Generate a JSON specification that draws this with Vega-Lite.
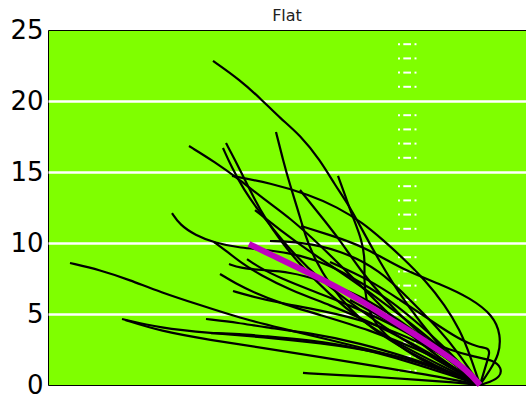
{
  "$schema": "https://vega.github.io/schema/vega-lite/v6.json",
  "width": 478,
  "height": 355,
  "autosize": {"type": "none"},
  "padding": {"left": 48, "top": 30, "right": 0, "bottom": 21},
  "background": "white",
  "title": {"text": "Flat", "fontSize": 16, "font": "DejaVu Sans", "fontWeight": "normal", "color": "#222", "offset": -7},
  "config": {"view": {"fill": "#7FFF00", "stroke": "#000", "strokeWidth": 1}},
  "datasets": {
    "hashes": [{"y":1},{"y":2},{"y":3},{"y":4},{"y":6},{"y":7},{"y":8},{"y":9},{"y":11},{"y":12},{"y":13},{"y":14},{"y":16},{"y":17},{"y":18},{"y":19},{"y":21},{"y":22},{"y":23},{"y":24}],
    "mean": [
      {"i":0,"x":-23.1,"y":9.93},{"i":1,"x":-21.7,"y":9.44},{"i":2,"x":-15.0,"y":7.18},{"i":3,"x":-12.0,"y":5.99},{"i":4,"x":-8.4,"y":4.37},{"i":5,"x":-7.0,"y":3.80},{"i":6,"x":-3.7,"y":2.25},{"i":7,"x":-1.3,"y":1.06},{"i":8,"x":0,"y":0}
    ],
    "paths": [
      {"c":"A","i":0,"x":-26.7,"y":22.82},{"c":"A","i":1,"x":-24.0,"y":21.48},{"c":"A","i":2,"x":-21.8,"y":20.07},{"c":"A","i":3,"x":-20.0,"y":18.80},{"c":"A","i":4,"x":-18.0,"y":17.61},{"c":"A","i":5,"x":-16.0,"y":15.85},{"c":"A","i":6,"x":-14.5,"y":14.08},{"c":"A","i":7,"x":-13.0,"y":12.54},{"c":"A","i":8,"x":-11.5,"y":10.56},{"c":"A","i":9,"x":-10.0,"y":8.66},{"c":"A","i":10,"x":-8.0,"y":6.34},{"c":"A","i":11,"x":-6.0,"y":4.44},{"c":"A","i":12,"x":-3.5,"y":2.32},{"c":"A","i":13,"x":-1.5,"y":0.92},{"c":"A","i":14,"x":0,"y":0},
      {"c":"B","i":0,"x":-29.1,"y":16.83},{"c":"B","i":1,"x":-26.5,"y":15.70},{"c":"B","i":2,"x":-24.0,"y":14.44},{"c":"B","i":3,"x":-21.5,"y":13.03},{"c":"B","i":4,"x":-19.0,"y":11.76},{"c":"B","i":5,"x":-16.0,"y":9.86},{"c":"B","i":6,"x":-13.0,"y":7.75},{"c":"B","i":7,"x":-10.0,"y":5.63},{"c":"B","i":8,"x":-7.0,"y":3.52},{"c":"B","i":9,"x":-4.0,"y":1.90},{"c":"B","i":10,"x":-1.5,"y":0.70},{"c":"B","i":11,"x":0,"y":0},
      {"c":"C","i":0,"x":-25.4,"y":17.04},{"c":"C","i":1,"x":-24.5,"y":15.85},{"c":"C","i":2,"x":-23.5,"y":14.44},{"c":"C","i":3,"x":-22.5,"y":13.03},{"c":"C","i":4,"x":-21.5,"y":11.76},{"c":"C","i":5,"x":-20.0,"y":10.21},{"c":"C","i":6,"x":-18.0,"y":8.45},{"c":"C","i":7,"x":-15.0,"y":6.34},{"c":"C","i":8,"x":-12.0,"y":4.58},{"c":"C","i":9,"x":-8.0,"y":2.82},{"c":"C","i":10,"x":-4.0,"y":1.41},{"c":"C","i":11,"x":0,"y":0},
      {"c":"D","i":0,"x":-25.7,"y":16.69},{"c":"D","i":1,"x":-24.8,"y":15.28},{"c":"D","i":2,"x":-23.6,"y":13.73},{"c":"D","i":3,"x":-22.2,"y":12.32},{"c":"D","i":4,"x":-21.0,"y":11.27},{"c":"D","i":5,"x":-19.0,"y":9.51},{"c":"D","i":6,"x":-16.0,"y":7.39},{"c":"D","i":7,"x":-12.0,"y":5.28},{"c":"D","i":8,"x":-8.0,"y":3.31},{"c":"D","i":9,"x":-4.0,"y":1.62},{"c":"D","i":10,"x":0,"y":0},
      {"c":"E","i":0,"x":-24.8,"y":14.72},{"c":"E","i":1,"x":-21.0,"y":14.23},{"c":"E","i":2,"x":-17.0,"y":13.38},{"c":"E","i":3,"x":-14.3,"y":12.54},{"c":"E","i":4,"x":-11.7,"y":11.41},{"c":"E","i":5,"x":-9.7,"y":10.21},{"c":"E","i":6,"x":-7.7,"y":8.94},{"c":"E","i":7,"x":-5.5,"y":7.39},{"c":"E","i":8,"x":-3.5,"y":5.63},{"c":"E","i":9,"x":-2.0,"y":3.87},{"c":"E","i":10,"x":-1.0,"y":2.11},{"c":"E","i":11,"x":0,"y":0},
      {"c":"F","i":0,"x":-17.9,"y":11.20},{"c":"F","i":1,"x":-15.0,"y":10.56},{"c":"F","i":2,"x":-11.7,"y":9.79},{"c":"F","i":3,"x":-7.7,"y":8.10},{"c":"F","i":4,"x":-3.7,"y":7.04},{"c":"F","i":5,"x":-1.0,"y":6.13},{"c":"F","i":6,"x":1.3,"y":4.93},{"c":"F","i":7,"x":2.1,"y":3.52},{"c":"F","i":8,"x":1.9,"y":2.11},{"c":"F","i":9,"x":1.0,"y":1.06},{"c":"F","i":10,"x":0,"y":0},
      {"c":"G","i":0,"x":-20.4,"y":17.82},{"c":"G","i":1,"x":-19.7,"y":15.85},{"c":"G","i":2,"x":-19.0,"y":14.08},{"c":"G","i":3,"x":-18.2,"y":12.32},{"c":"G","i":4,"x":-17.5,"y":10.56},{"c":"G","i":5,"x":-16.5,"y":8.80},{"c":"G","i":6,"x":-15.0,"y":7.04},{"c":"G","i":7,"x":-13.0,"y":5.28},{"c":"G","i":8,"x":-10.0,"y":3.52},{"c":"G","i":9,"x":-6.0,"y":1.90},{"c":"G","i":10,"x":-2.5,"y":0.70},{"c":"G","i":11,"x":0,"y":0},
      {"c":"H","i":0,"x":-14.2,"y":14.72},{"c":"H","i":1,"x":-13.5,"y":13.38},{"c":"H","i":2,"x":-12.8,"y":11.97},{"c":"H","i":3,"x":-11.8,"y":10.21},{"c":"H","i":4,"x":-11.5,"y":8.80},{"c":"H","i":5,"x":-11.6,"y":7.39},{"c":"H","i":6,"x":-11.4,"y":5.99},{"c":"H","i":7,"x":-10.8,"y":4.58},{"c":"H","i":8,"x":-9.0,"y":3.17},{"c":"H","i":9,"x":-6.0,"y":1.76},{"c":"H","i":10,"x":-2.5,"y":0.70},{"c":"H","i":11,"x":0,"y":0},
      {"c":"I","i":0,"x":-30.8,"y":12.11},{"c":"I","i":1,"x":-30.0,"y":11.27},{"c":"I","i":2,"x":-28.5,"y":10.56},{"c":"I","i":3,"x":-26.5,"y":10.00},{"c":"I","i":4,"x":-24.0,"y":9.65},{"c":"I","i":5,"x":-21.0,"y":9.51},{"c":"I","i":6,"x":-18.0,"y":9.15},{"c":"I","i":7,"x":-15.0,"y":8.45},{"c":"I","i":8,"x":-12.0,"y":7.25},{"c":"I","i":9,"x":-9.0,"y":5.99},{"c":"I","i":10,"x":-6.0,"y":4.23},{"c":"I","i":11,"x":-3.0,"y":2.32},{"c":"I","i":12,"x":0,"y":0},
      {"c":"J","i":0,"x":-41.0,"y":8.59},{"c":"J","i":1,"x":-38.0,"y":8.10},{"c":"J","i":2,"x":-35.0,"y":7.39},{"c":"J","i":3,"x":-32.0,"y":6.55},{"c":"J","i":4,"x":-28.0,"y":5.63},{"c":"J","i":5,"x":-24.0,"y":4.72},{"c":"J","i":6,"x":-20.0,"y":4.01},{"c":"J","i":7,"x":-15.0,"y":3.17},{"c":"J","i":8,"x":-10.0,"y":2.32},{"c":"J","i":9,"x":-5.0,"y":1.41},{"c":"J","i":10,"x":0,"y":0},
      {"c":"K","i":0,"x":-35.8,"y":4.65},{"c":"K","i":1,"x":-32.0,"y":4.01},{"c":"K","i":2,"x":-27.0,"y":3.66},{"c":"K","i":3,"x":-21.7,"y":3.38},{"c":"K","i":4,"x":-16.0,"y":2.96},{"c":"K","i":5,"x":-10.0,"y":2.32},{"c":"K","i":6,"x":-5.0,"y":1.41},{"c":"K","i":7,"x":0,"y":0},
      {"c":"L","i":0,"x":-35.5,"y":4.58},{"c":"L","i":1,"x":-32.0,"y":3.80},{"c":"L","i":2,"x":-27.0,"y":3.17},{"c":"L","i":3,"x":-21.7,"y":2.61},{"c":"L","i":4,"x":-16.0,"y":1.97},{"c":"L","i":5,"x":-10.0,"y":1.27},{"c":"L","i":6,"x":-5.0,"y":0.70},{"c":"L","i":7,"x":0,"y":0},
      {"c":"M","i":0,"x":-27.4,"y":4.65},{"c":"M","i":1,"x":-24.0,"y":4.37},{"c":"M","i":2,"x":-21.7,"y":4.08},{"c":"M","i":3,"x":-17.0,"y":3.66},{"c":"M","i":4,"x":-12.0,"y":2.96},{"c":"M","i":5,"x":-7.0,"y":1.90},{"c":"M","i":6,"x":-3.0,"y":0.92},{"c":"M","i":7,"x":0,"y":0},
      {"c":"N","i":0,"x":-26.9,"y":3.66},{"c":"N","i":1,"x":-24.0,"y":3.59},{"c":"N","i":2,"x":-21.7,"y":3.45},{"c":"N","i":3,"x":-17.0,"y":3.17},{"c":"N","i":4,"x":-12.0,"y":2.61},{"c":"N","i":5,"x":-7.0,"y":1.62},{"c":"N","i":6,"x":-3.0,"y":0.70},{"c":"N","i":7,"x":0,"y":0},
      {"c":"O","i":0,"x":-26.6,"y":10.07},{"c":"O","i":1,"x":-25.5,"y":9.51},{"c":"O","i":2,"x":-24.0,"y":8.66},{"c":"O","i":3,"x":-22.0,"y":7.75},{"c":"O","i":4,"x":-19.0,"y":6.69},{"c":"O","i":5,"x":-15.0,"y":5.63},{"c":"O","i":6,"x":-11.0,"y":4.44},{"c":"O","i":7,"x":-7.0,"y":3.03},{"c":"O","i":8,"x":-3.0,"y":1.41},{"c":"O","i":9,"x":0,"y":0},
      {"c":"P","i":0,"x":-25.1,"y":8.52},{"c":"P","i":1,"x":-24.0,"y":8.24},{"c":"P","i":2,"x":-22.0,"y":8.10},{"c":"P","i":3,"x":-19.0,"y":7.96},{"c":"P","i":4,"x":-16.0,"y":7.39},{"c":"P","i":5,"x":-12.0,"y":6.34},{"c":"P","i":6,"x":-8.0,"y":4.58},{"c":"P","i":7,"x":-4.0,"y":2.46},{"c":"P","i":8,"x":0,"y":0},
      {"c":"Q","i":0,"x":-26.0,"y":7.82},{"c":"Q","i":1,"x":-24.5,"y":7.18},{"c":"Q","i":2,"x":-22.5,"y":6.48},{"c":"Q","i":3,"x":-20.0,"y":5.77},{"c":"Q","i":4,"x":-16.0,"y":4.93},{"c":"Q","i":5,"x":-11.0,"y":3.87},{"c":"Q","i":6,"x":-6.0,"y":2.46},{"c":"Q","i":7,"x":-2.0,"y":1.06},{"c":"Q","i":8,"x":0,"y":0},
      {"c":"R","i":0,"x":-24.7,"y":6.62},{"c":"R","i":1,"x":-23.0,"y":6.27},{"c":"R","i":2,"x":-20.0,"y":5.77},{"c":"R","i":3,"x":-16.0,"y":5.28},{"c":"R","i":4,"x":-11.0,"y":4.44},{"c":"R","i":5,"x":-6.0,"y":3.03},{"c":"R","i":6,"x":-2.0,"y":1.41},{"c":"R","i":7,"x":0,"y":0},
      {"c":"S","i":0,"x":-23.3,"y":8.87},{"c":"S","i":1,"x":-22.0,"y":8.24},{"c":"S","i":2,"x":-20.0,"y":7.54},{"c":"S","i":3,"x":-17.0,"y":6.69},{"c":"S","i":4,"x":-13.0,"y":5.63},{"c":"S","i":5,"x":-8.0,"y":4.01},{"c":"S","i":6,"x":-4.0,"y":2.32},{"c":"S","i":7,"x":0,"y":0},
      {"c":"T","i":0,"x":-17.7,"y":0.85},{"c":"T","i":1,"x":-14.0,"y":0.70},{"c":"T","i":2,"x":-10.0,"y":0.56},{"c":"T","i":3,"x":-6.0,"y":0.35},{"c":"T","i":4,"x":-3.0,"y":0.21},{"c":"T","i":5,"x":0,"y":0},
      {"c":"U","i":0,"x":-21.0,"y":10.14},{"c":"U","i":1,"x":-18.0,"y":10.07},{"c":"U","i":2,"x":-14.0,"y":9.51},{"c":"U","i":3,"x":-10.0,"y":8.10},{"c":"U","i":4,"x":-7.0,"y":5.99},{"c":"U","i":5,"x":-4.0,"y":3.87},{"c":"U","i":6,"x":-2.0,"y":2.11},{"c":"U","i":7,"x":0,"y":0},
      {"c":"X","i":0,"x":-15.0,"y":8.66},{"c":"X","i":1,"x":-11.0,"y":7.39},{"c":"X","i":2,"x":-8.0,"y":5.99},{"c":"X","i":3,"x":-5.0,"y":4.58},{"c":"X","i":4,"x":-2.0,"y":3.17},{"c":"X","i":5,"x":-0.2,"y":2.68},{"c":"X","i":6,"x":0.8,"y":2.61},{"c":"X","i":7,"x":1.0,"y":2.32},{"c":"X","i":8,"x":0.6,"y":1.41},{"c":"X","i":9,"x":0,"y":0},
      {"c":"Y","i":0,"x":-13.0,"y":5.99},{"c":"Y","i":1,"x":-9.0,"y":4.44},{"c":"Y","i":2,"x":-6.0,"y":3.31},{"c":"Y","i":3,"x":-3.0,"y":2.46},{"c":"Y","i":4,"x":-0.5,"y":1.97},{"c":"Y","i":5,"x":1.3,"y":1.76},{"c":"Y","i":6,"x":2.2,"y":1.20},{"c":"Y","i":7,"x":2.0,"y":0.56},{"c":"Y","i":8,"x":1.0,"y":0.21},{"c":"Y","i":9,"x":0,"y":0},
      {"c":"AA","i":0,"x":-22.5,"y":12.32},{"c":"AA","i":1,"x":-20.0,"y":10.92},{"c":"AA","i":2,"x":-17.0,"y":9.37},{"c":"AA","i":3,"x":-13.5,"y":7.75},{"c":"AA","i":4,"x":-10.0,"y":5.99},{"c":"AA","i":5,"x":-6.0,"y":3.87},{"c":"AA","i":6,"x":-2.5,"y":1.76},{"c":"AA","i":7,"x":0,"y":0},
      {"c":"AB","i":0,"x":-18.0,"y":13.73},{"c":"AB","i":1,"x":-16.0,"y":11.97},{"c":"AB","i":2,"x":-14.0,"y":10.21},{"c":"AB","i":3,"x":-12.0,"y":8.10},{"c":"AB","i":4,"x":-9.5,"y":5.99},{"c":"AB","i":5,"x":-7.0,"y":4.23},{"c":"AB","i":6,"x":-4.0,"y":2.46},{"c":"AB","i":7,"x":-1.5,"y":1.06},{"c":"AB","i":8,"x":0,"y":0}
    ]
  },
  "encoding": {
    "y": {
      "type": "quantitative",
      "scale": {"domain": [0, 25], "nice": false, "zero": false},
      "axis": {
        "title": null, "values": [0, 5, 10, 15, 20, 25],
        "ticks": false, "domain": false,
        "labelFont": "DejaVu Sans", "labelFontSize": 26, "labelColor": "#000", "labelPadding": 5,
        "grid": true, "gridColor": "#ffffff", "gridWidth": 2.5,
        "gridOpacity": {"condition": {"test": "datum.value === 0 || datum.value === 25", "value": 0}, "value": 1}
      }
    }
  },
  "layer": [
    {
      "data": {"name": "hashes"},
      "mark": {"type": "rule", "color": "#ffffff", "strokeWidth": 2},
      "encoding": {
        "x": {"datum": -7.67, "type": "quantitative", "scale": {"domain": [-43.2, 4.6], "nice": false, "zero": false}, "axis": null},
        "x2": {"datum": -6.9},
        "y": {"field": "y", "type": "quantitative"}
      }
    },
    {
      "data": {"name": "hashes"},
      "mark": {"type": "rule", "color": "#ffffff", "strokeWidth": 2},
      "encoding": {
        "x": {"datum": -8.2, "type": "quantitative"},
        "x2": {"datum": -8.0},
        "y": {"field": "y", "type": "quantitative"}
      }
    },
    {
      "data": {"name": "hashes"},
      "mark": {"type": "rule", "color": "#ffffff", "strokeWidth": 2},
      "encoding": {
        "x": {"datum": -6.55, "type": "quantitative"},
        "x2": {"datum": -6.35},
        "y": {"field": "y", "type": "quantitative"}
      }
    },
    {
      "data": {"name": "paths"},
      "mark": {"type": "line", "color": "#000000", "strokeWidth": 2.2, "interpolate": "basis", "clip": true},
      "encoding": {
        "x": {"field": "x", "type": "quantitative"},
        "y": {"field": "y", "type": "quantitative"},
        "detail": {"field": "c"},
        "order": {"field": "i", "type": "quantitative"}
      }
    },
    {
      "data": {"name": "mean"},
      "mark": {"type": "line", "color": "#BF00BF", "strokeWidth": 6, "interpolate": "basis", "strokeCap": "butt"},
      "encoding": {
        "x": {"field": "x", "type": "quantitative"},
        "y": {"field": "y", "type": "quantitative"},
        "order": {"field": "i", "type": "quantitative"}
      }
    }
  ]
}
